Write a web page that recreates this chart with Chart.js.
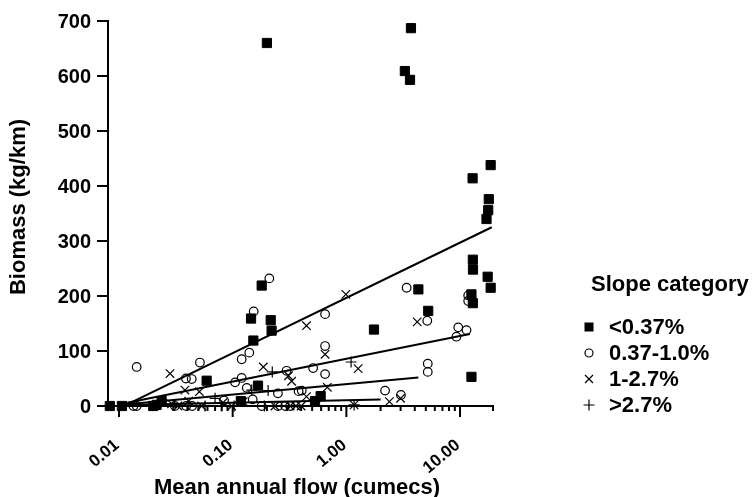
<!DOCTYPE html>
<html>
<head>
<meta charset="utf-8">
<script src="https://cdn.jsdelivr.net/npm/chart.js@4.4.0/dist/chart.umd.min.js"></script>
<style>
  body { margin: 0; background: #fff; }
</style>
</head>
<body>
<canvas id="chart" width="752" height="497"></canvas>
<script>
const FONT = '"Liberation Sans", Arial, Helvetica, sans-serif';

// slope categories (legend)
const categories = ["<0.37%", "0.37-1.0%", "1-2.7%", ">2.7%"];

// <0.37%
const flowLow = [0.0083, 0.0106, 0.020, 0.0214, 0.0237, 0.059, 0.118, 0.145, 0.152, 0.167, 0.18, 0.20, 0.216, 0.22,
  0.53, 0.594, 1.75, 3.27, 3.63, 3.70, 4.3, 5.25, 12.6, 12.9, 12.96, 13.0, 12.96, 12.6, 17.1, 17.7, 17.9, 17.5, 18.6, 18.6];
const biomassLow = [0, 0, 0, 2, 9, 46, 9, 159, 119, 37, 219, 660, 156, 137,
  9, 18, 139, 609, 593, 687, 212, 173, 203, 414, 266, 248, 187, 53, 340, 356, 376, 235, 438, 215];

// 0.37-1.0%
const flowMid = [0.0134, 0.0143, 0.0143, 0.031, 0.0388, 0.0436, 0.039, 0.044, 0.0515, 0.084, 0.105, 0.12, 0.12, 0.14,
  0.133, 0.15, 0.153, 0.21, 0.25, 0.298, 0.38, 0.18, 0.25, 0.29, 0.32, 0.405, 0.51, 0.65, 0.65, 0.65,
  2.19, 3.02, 3.39, 5.15, 5.2, 5.2, 9.3, 9.64, 11.4, 11.8, 11.8];
const biomassMid = [0, 0, 71, 0, 50, 49, 0, 0, 79, 10, 43, 51, 85, 97,
  33, 12, 172, 232, 23, 64, 27, 0, 0, 0, 0, 28, 69, 58, 109, 167,
  28, 20, 215, 155, 77, 62, 126, 143, 138, 201, 191];

// 1-2.7%
const flowSteep = [0.0281, 0.029, 0.033, 0.038, 0.0509, 0.0534, 0.041, 0.082, 0.124, 0.098, 0.186, 0.235, 0.32, 0.36,
  0.31, 0.33, 0.446, 0.446, 0.65, 0.68, 0.99, 1.17, 1.27, 2.39, 3.0, 4.2, 0.40];
const biomassSteep = [59, 4, 0, 29, 26, 0, 9, 6, 8, 0, 71, 0, 0, 0,
  55, 45, 17, 146, 94, 34, 203, 2, 68, 8, 14, 153, 0];

// >2.7%
const flowVSteep = [0.057, 0.07, 0.08, 0.103, 0.147, 0.205, 0.223, 1.10, 1.17, 0.19];
const biomassVSteep = [0, 14, 0, 0, 29, 28, 62, 80, 2, 0];

// fitted lines, start and end for each category
const fitFlow = [[0.0118, 19.0], [0.0118, 12.2], [0.0118, 4.3], [0.0118, 2.0]];
const fitBiomass = [[3, 325], [6, 131], [3, 52], [2, 12]];

const xTicks = [0.01, 0.1, 1, 10];
const xTickLabels = ["0.01", "0.10", "1.00", "10.00"];
const yTicks = [0, 100, 200, 300, 400, 500, 600, 700];

const toPoints = (xs, ys) => xs.map((v, i) => ({ x: v, y: ys[i] }));

const markerStyles = [
  { pointStyle: "rect", pointRadius: 6.5, backgroundColor: "#000", borderColor: "#000", borderWidth: 1 },
  { pointStyle: "circle", pointRadius: 4.3, backgroundColor: "rgba(0,0,0,0)", borderColor: "#000", borderWidth: 1.2 },
  { pointStyle: "crossRot", pointRadius: 6, backgroundColor: "rgba(0,0,0,0)", borderColor: "#000", borderWidth: 1.2 },
  { pointStyle: "cross", pointRadius: 5.5, backgroundColor: "rgba(0,0,0,0)", borderColor: "#000", borderWidth: 1.2 },
];
const series = [[flowLow, biomassLow], [flowMid, biomassMid], [flowSteep, biomassSteep], [flowVSteep, biomassVSteep]];

const datasets = [];
fitFlow.forEach((f, i) => {
  datasets.push({
    label: "fit " + categories[i],
    data: toPoints(f, fitBiomass[i]),
    showLine: true,
    borderColor: "#000",
    borderWidth: 2,
    pointRadius: 0,
    clip: false,
  });
});
series.forEach((s, i) => {
  datasets.push(Object.assign({ label: categories[i], data: toPoints(s[0], s[1]), clip: false, pointHoverRadius: 0 }, markerStyles[i]));
});

// draws axes, ticks, titles and legend with the chart's scales
const axesPlugin = {
  id: "axes",
  beforeDatasetsDraw(chart) {
    const ctx = chart.ctx;
    const xs = chart.scales.x, ys = chart.scales.y;
    const left = xs.left, right = xs.right, top = ys.top, bottom = ys.bottom;
    ctx.save();
    ctx.strokeStyle = "#000";
    ctx.lineWidth = 2;
    ctx.beginPath();
    ctx.moveTo(left, top - 1);
    ctx.lineTo(left, bottom + 4);
    ctx.moveTo(left - 1, bottom);
    ctx.lineTo(right + 1, bottom);
    // y ticks
    yTicks.forEach(v => {
      const py = ys.getPixelForValue(v);
      ctx.moveTo(left - 11, py);
      ctx.lineTo(left, py);
    });
    // x ticks, major and minor
    for (let d = -2; d <= 1; d++) {
      for (let m = 1; m <= 9; m++) {
        const v = m * Math.pow(10, d);
        if (v < xs.min || v > xs.max) continue;
        const px = xs.getPixelForValue(v);
        ctx.moveTo(px, bottom);
        ctx.lineTo(px, bottom + (m === 1 ? 11 : 5));
      }
    }
    ctx.moveTo(right, bottom);
    ctx.lineTo(right, bottom + 5);
    ctx.stroke();

    ctx.fillStyle = "#000";
    ctx.font = "bold 20px " + FONT;
    ctx.textAlign = "right";
    ctx.textBaseline = "middle";
    yTicks.forEach(v => ctx.fillText(String(v), left - 17, ys.getPixelForValue(v) + 1));

    ctx.font = "bold 17px " + FONT;
    xTicks.forEach((v, i) => {
      const px = xs.getPixelForValue(v);
      ctx.save();
      ctx.translate(px - 2, bottom + 37);
      ctx.rotate(-40 * Math.PI / 180);
      ctx.fillText(xTickLabels[i], 0, 0);
      ctx.restore();
    });

    ctx.textAlign = "center";
    ctx.font = "bold 22px " + FONT;
    ctx.fillText("Mean annual flow (cumecs)", 297, 488);
    ctx.save();
    ctx.translate(19, 207);
    ctx.rotate(-Math.PI / 2);
    ctx.fillText("Biomass (kg/km)", 0, 0);
    ctx.restore();

    // legend
    ctx.textAlign = "left";
    ctx.fillText("Slope category", 591, 285);
    const rowY = [327, 353, 379, 405];
    const mx = 589;
    ctx.lineWidth = 1.2;
    categories.forEach((c, i) => {
      const y = rowY[i];
      ctx.beginPath();
      if (i === 0) {
        ctx.fillRect(mx - 4.5, y - 4.5, 9, 9);
      } else if (i === 1) {
        ctx.arc(mx, y, 4, 0, Math.PI * 2);
      } else if (i === 2) {
        ctx.moveTo(mx - 4, y - 4); ctx.lineTo(mx + 4, y + 4);
        ctx.moveTo(mx + 4, y - 4); ctx.lineTo(mx - 4, y + 4);
      } else {
        ctx.moveTo(mx - 5.5, y); ctx.lineTo(mx + 5.5, y);
        ctx.moveTo(mx, y - 5.5); ctx.lineTo(mx, y + 5.5);
      }
      ctx.stroke();
      ctx.fillText(c, 609, y + 1);
    });
    ctx.restore();
  },
};

new Chart(document.getElementById("chart"), {
  type: "scatter",
  data: { datasets: datasets },
  plugins: [axesPlugin],
  options: {
    responsive: false,
    animation: false,
    events: [],
    layout: { padding: { left: 108, top: 21, right: 259, bottom: 91 } },
    scales: {
      x: { type: "logarithmic", min: 0.008, max: 19.5, display: false },
      y: { type: "linear", min: 0, max: 700, display: false },
    },
    plugins: {
      legend: { display: false },
      tooltip: { enabled: false },
    },
  },
});
</script>
</body>
</html>
